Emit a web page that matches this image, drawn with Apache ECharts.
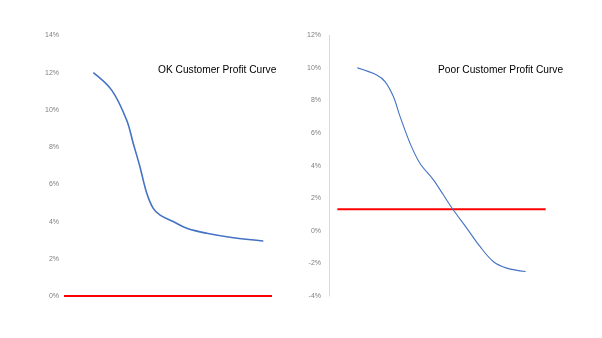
<!DOCTYPE html>
<html>
<head>
<meta charset="utf-8">
<script src="https://cdn.jsdelivr.net/npm/echarts@6/dist/echarts.min.js"></script>
<style>
  html, body { margin: 0; padding: 0; background: #fff; }
  #chart { width: 602px; height: 338px; }
</style>
</head>
<body>
<div id="chart"></div>
<script>
// OK customer: profit margin along the customer range
const okX = [1.41, 2.3, 3.01, 3.33, 3.65, 3.98, 4.29, 4.62, 5.25, 5.9, 6.86, 8.14, 9.58];
const okProfit = [12.0, 11.05, 9.46, 8.2, 6.95, 5.52, 4.71, 4.35, 4.0, 3.64, 3.37, 3.13, 2.96];
const okThresholdX = [0, 10];
const okThreshold = [0, 0];

// Poor customer: profit margin along the customer range
const poorX = [1.26, 2.12, 2.49, 2.86, 3.16, 3.6, 4.04, 4.64, 5.08, 5.52, 6.12, 6.71, 7.3, 7.9, 8.74];
const poorProfit = [10.0, 9.57, 9.16, 8.24, 7.01, 5.38, 4.15, 3.13, 2.21, 1.29, 0.17, -0.96, -1.88, -2.29, -2.5];
const poorThresholdX = [0.37, 9.63];
const poorThreshold = [1.33, 1.33];

const titles = ['OK Customer Profit Curve', 'Poor Customer Profit Curve'];

const pairs = (xs, ys) => xs.map((x, i) => [x, ys[i]]);

const labelStyle = {
  color: '#7f7f7f',
  fontSize: 7,
  fontFamily: 'Liberation Sans',
  formatter: v => v + '%'
};
const titleStyle = { fontSize: 10.2, fontWeight: 'normal', color: '#000', fontFamily: 'Liberation Sans' };

const chart = echarts.init(document.getElementById('chart'), null, { renderer: 'canvas' });
chart.setOption({
  animation: false,
  backgroundColor: '#fff',
  title: [
    { text: titles[0], left: 153, top: 60, textStyle: titleStyle },
    { text: titles[1], left: 433, top: 60, textStyle: titleStyle }
  ],
  grid: [
    { left: 64, width: 208, top: 35.5, height: 260.5 },
    { left: 329, width: 225, top: 35.3, height: 260.7 }
  ],
  xAxis: [
    { type: 'value', gridIndex: 0, min: 0, max: 10, show: false },
    { type: 'value', gridIndex: 1, min: 0, max: 10, show: false }
  ],
  yAxis: [
    { type: 'value', gridIndex: 0, min: 0, max: 14, interval: 2,
      axisLine: { show: false }, axisTick: { show: false }, splitLine: { show: false },
      axisLabel: Object.assign({ margin: 5 }, labelStyle) },
    { type: 'value', gridIndex: 1, min: -4, max: 12, interval: 2,
      axisLine: { show: true, lineStyle: { color: '#d9d9d9', width: 1 } },
      axisTick: { show: false }, splitLine: { show: false },
      axisLabel: Object.assign({ margin: 8 }, labelStyle) }
  ],
  series: [
    { type: 'line', xAxisIndex: 0, yAxisIndex: 0, data: pairs(okThresholdX, okThreshold),
      symbol: 'none', lineStyle: { color: '#ff0000', width: 2 } },
    { type: 'line', xAxisIndex: 0, yAxisIndex: 0, data: pairs(okX, okProfit),
      symbol: 'none', smooth: 0.35, lineStyle: { color: '#4472c4', width: 1.6 } },
    { type: 'line', xAxisIndex: 1, yAxisIndex: 1, data: pairs(poorThresholdX, poorThreshold),
      symbol: 'none', lineStyle: { color: '#ff0000', width: 2 } },
    { type: 'line', xAxisIndex: 1, yAxisIndex: 1, data: pairs(poorX, poorProfit),
      symbol: 'none', smooth: 0.35, lineStyle: { color: '#4472c4', width: 1.1 } }
  ]
});
</script>
</body>
</html>
